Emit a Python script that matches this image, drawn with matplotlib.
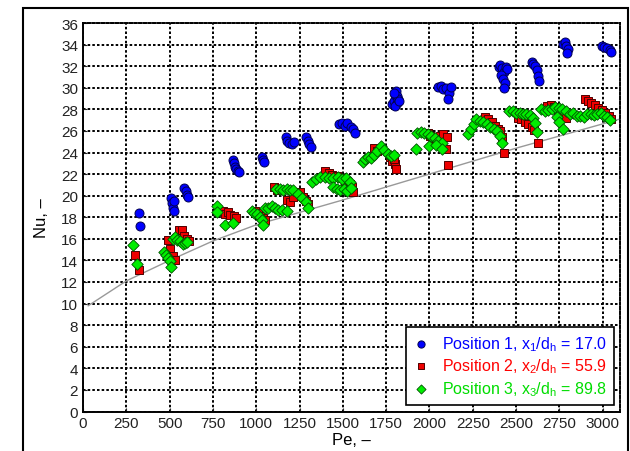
import matplotlib
matplotlib.use("Agg")
import matplotlib.pyplot as plt
from matplotlib.patches import Rectangle

plt.rcParams["font.family"] = ["Liberation Sans", "DejaVu Sans"]
plt.rcParams["mathtext.default"] = "regular"

# Position 1 (blue circles)
pe1 = [325, 330,
       510, 515, 520, 525, 528,
       585, 595, 600, 606,
       868, 873, 878, 885, 892, 903,
       1035, 1040, 1045,
       1170, 1180, 1192, 1205, 1218,
       1290, 1298, 1305, 1315,
       1480, 1495, 1510, 1525, 1545, 1558, 1568,
       1785, 1795, 1800, 1805, 1810, 1815, 1820, 1800, 1795, 1825,
       2050, 2065, 2080, 2095, 2110, 2122, 2105,
       2400, 2410, 2420, 2430, 2440, 2450, 2415, 2425, 2435, 2428,
       2590, 2600, 2610, 2618, 2625, 2632,
       2770, 2780, 2790, 2800, 2795,
       2995, 3010, 3025, 3040, 3050]
nu1 = [18.4, 17.2,
       19.8, 19.3, 18.9, 18.6, 19.5,
       20.7, 20.4, 20.1, 19.9,
       23.3, 23.0, 22.7, 22.5, 22.3, 22.2,
       23.6, 23.3, 23.1,
       25.4, 25.1, 24.9, 24.8, 25.0,
       25.4, 25.1, 24.8, 24.5,
       26.6, 26.7, 26.5, 26.7, 26.4, 26.2, 25.8,
       28.5, 28.8, 29.3, 29.7, 29.2, 28.6, 29.0, 28.3, 29.5, 28.8,
       30.1, 30.2, 29.9, 30.0, 29.5, 30.1, 29.0,
       31.9, 32.1, 31.8, 31.5, 31.9, 31.7, 31.2, 30.8, 30.4, 30.0,
       32.4, 32.2, 32.0, 31.6, 31.1, 30.6,
       34.1, 34.2, 33.9, 33.6, 33.2,
       33.9, 33.8, 33.7, 33.5, 33.3]

# Position 2 (red squares)
pe2 = [300, 322,
       490, 505, 520, 530, 555, 570, 585, 600, 612,
       810, 820, 835, 850, 870, 885,
       995, 1010, 1025, 1040, 1050,
       1100, 1120, 1180, 1195, 1210, 1250, 1270, 1290, 1300,
       1395, 1420, 1440, 1465, 1490, 1515, 1540, 1555, 1560,
       1680, 1700, 1770, 1785, 1800, 1795, 1805,
       1990, 2005, 2020, 2035, 2060, 2080, 2100, 2095, 2105,
       2320, 2340, 2360, 2380, 2395, 2410, 2420, 2430,
       2510, 2530, 2550, 2570, 2590, 2605, 2625,
       2660, 2680, 2700, 2720, 2740, 2760, 2790,
       2900, 2915, 2935, 2955, 2975, 2995, 3015, 3035, 3050]
nu2 = [14.5, 13.1,
       15.9, 15.1, 14.4, 14.0, 16.8, 16.8, 16.3, 16.0, 15.8,
       18.6, 18.3, 18.5, 18.2, 18.1, 17.9,
       18.6, 18.4, 18.1, 17.9, 17.7,
       20.8, 20.5, 19.6, 19.4, 19.9, 20.3, 19.9, 19.5, 19.2,
       22.3, 22.1, 21.9, 21.8, 21.6, 21.4, 21.1, 20.8, 20.3,
       24.4, 24.1, 23.6, 23.2, 22.9, 23.4, 22.5,
       25.8, 25.5, 25.2, 24.9, 25.5, 25.7, 25.4, 24.3, 22.8,
       27.3, 27.1, 26.8, 26.5, 26.2, 26.0, 25.4, 24.0,
       27.2, 27.1, 26.8, 26.6, 26.4, 26.1, 24.9,
       28.0, 28.3, 28.4, 28.2, 27.9, 27.5, 27.2,
       29.0, 28.8, 28.6, 28.4, 28.1, 27.9, 27.7, 27.4, 27.1]

# Position 3 (green diamonds)
pe3 = [288, 312,
       470, 480, 490, 500, 510, 520, 530, 545, 560, 575, 590, 600,
       772, 775, 818, 866,
       975, 990, 1005, 1020, 1033, 1040, 1050, 1070, 1090, 1110, 1125, 1150, 1177,
       1115, 1135, 1155, 1175, 1195, 1215, 1240, 1265, 1285, 1300,
       1320, 1345, 1370, 1395, 1420, 1445, 1470, 1495, 1520, 1540,
       1445, 1465, 1485, 1505, 1525, 1545,
       1615, 1630, 1645, 1660, 1680, 1700, 1720, 1740, 1760, 1780, 1795,
       1925, 1930, 1950, 1970, 1990, 2010, 2030, 2050, 2070,
       1995, 2040, 2070,
       2220, 2240, 2255, 2270, 2290, 2310, 2330, 2350, 2370, 2390, 2405, 2418,
       2460, 2480, 2500, 2520, 2540, 2560, 2580, 2600, 2610, 2620,
       2645, 2665, 2685, 2705, 2725, 2745, 2765,
       2735, 2750, 2770,
       2790, 2810, 2830, 2850, 2870, 2890, 2910, 2930, 2950, 2970, 2990, 3010, 3025, 3040]
nu3 = [15.4, 13.7,
       14.8, 14.5, 14.2, 13.9, 13.4, 16.0, 16.2, 15.9, 15.8, 15.5, 15.6, 15.7,
       19.0, 18.5, 17.3, 17.5,
       18.6, 18.4, 18.3, 18.0, 17.7, 17.3, 18.9, 18.9, 19.0, 18.9, 18.7, 18.7, 18.6,
       20.6, 20.6, 20.5, 20.6, 20.5, 20.5, 20.2, 19.8, 19.4, 18.9,
       21.3, 21.5, 21.7, 21.7, 21.6, 21.6, 21.7, 21.5, 21.6, 21.3,
       20.8, 20.6, 20.5, 20.6, 20.4, 20.7,
       23.1, 23.4, 23.6, 23.5, 23.8, 24.1, 24.6, 24.2, 23.9, 23.7, 23.8,
       24.3, 25.8, 25.9, 25.8, 25.7, 25.5, 25.3, 25.1, 24.9,
       24.6, 24.7, 24.3,
       25.7, 26.2, 26.6, 27.1, 26.9, 26.8, 26.6, 26.4, 26.2, 26.0, 25.5, 24.9,
       27.8, 27.8, 27.7, 27.7, 27.6, 27.6, 27.5, 27.2, 26.7, 25.9,
       28.0, 27.8, 27.9, 28.0, 28.2, 28.1, 28.0,
       27.3, 26.8, 26.2,
       27.8, 27.6, 27.7, 27.4, 27.4, 27.3, 27.6, 27.6, 27.5, 27.6, 27.7, 27.4, 27.3, 27.0]

# correlation curve
pe_corr = [30, 250, 500, 750, 1000, 1500, 2000, 2500, 3100]
nu_corr = [9.8, 12.1, 14.0, 15.8, 17.3, 19.6, 22.0, 24.4, 27.1]

labels = ["Position 1, x$_1$/d$_h$ = 17.0",
          "Position 2, x$_2$/d$_h$ = 55.9",
          "Position 3, x$_3$/d$_h$ = 89.8"]
text_colors = ["#0000ff", "#ff0000", "#00dd00"]

fig = plt.figure(figsize=(6.3, 4.52), dpi=100)
ax = fig.add_axes([83 / 630, 39.5 / 452, 537 / 630, 388.5 / 452])

ax.plot(pe_corr, nu_corr, color="#999999", lw=1.0, zorder=2)
ax.scatter(pe1, nu1, s=42, marker="o", facecolor="#0000ff", edgecolor="#000050",
           linewidth=0.7, zorder=3, label=labels[0])
ax.scatter(pe2, nu2, s=26, marker="s", facecolor="#ee0000", edgecolor="#500000",
           linewidth=0.7, zorder=4, label=labels[1])
ax.scatter(pe3, nu3, s=34, marker="D", facecolor="#00ee00", edgecolor="#005000",
           linewidth=0.6, zorder=5, label=labels[2])

ax.set_xlim(0, 3100)
ax.set_ylim(0, 36)
ax.set_xticks(range(0, 3001, 250))
ax.set_yticks(range(0, 37, 2))
ax.tick_params(direction="in", length=3, labelsize=11, colors="#222222")
ax.grid(True, color="black", linestyle=(0, (1.3, 1.1)), linewidth=1.4)
ax.set_axisbelow(True)
for side in ["top", "right"]:
    ax.spines[side].set_linestyle((0, (1.3, 1.1)))
    ax.spines[side].set_linewidth(1.4)
for side in ["left", "bottom"]:
    ax.spines[side].set_linewidth(1.4)

ax.set_xlabel("Pe, \u2013", fontsize=12, labelpad=1)
ax.set_ylabel("Nu, \u2013", fontsize=12, labelpad=9)

leg = ax.legend(loc="lower right", fontsize=11.5, frameon=True, fancybox=False,
                edgecolor="black", framealpha=1, borderaxespad=0.4,
                handlelength=1.0, handletextpad=0.8, labelspacing=0.25,
                borderpad=0.45, scatterpoints=1, markerscale=0.8)
leg.get_frame().set_linewidth(1.2)
for txt, c in zip(leg.get_texts(), text_colors):
    txt.set_color(c)

fig.patches.append(Rectangle((23 / 630, -0.05), 605 / 630, (452 - 9) / 452 + 0.05,
                             transform=fig.transFigure, fill=False,
                             edgecolor="black", linewidth=1.5))

fig.savefig("out.png", dpi=100)
